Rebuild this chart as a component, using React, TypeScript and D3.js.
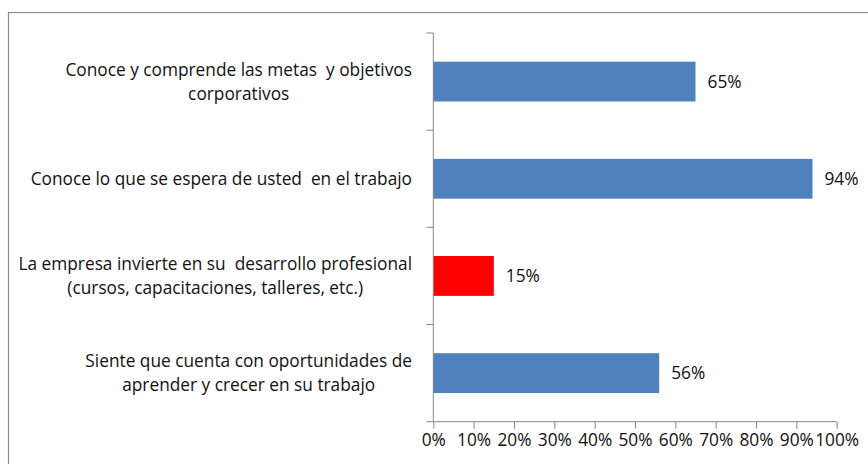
import React, { useEffect, useRef } from "react";
import * as d3 from "d3";

const categories = [
  "Conoce y comprende las metas  y objetivos|corporativos",
  "Conoce lo que se espera de usted  en el trabajo",
  "La empresa invierte en su  desarrollo profesional|(cursos, capacitaciones, talleres, etc.)",
  "Siente que cuenta con oportunidades de|aprender y crecer en su trabajo",
];
const values = [0.65, 0.94, 0.15, 0.56];
const barColors = ["#4F81BD", "#4F81BD", "#FF0000", "#4F81BD"];
const xTicks = [0, 0.1, 0.2, 0.3, 0.4, 0.5, 0.6, 0.7, 0.8, 0.9, 1];

const W = 868;
const H = 464;
const FONT = "'Open Sans', sans-serif";
const FS = 17.3;

const App = () => {
  const ref = useRef<SVGSVGElement>(null);

  useEffect(() => {
    const svg = d3.select(ref.current);
    svg.selectAll("*").remove();

    const left = 433.3;
    const right = 836.7;
    const top = 33;
    const bottom = 421.7;

    // chart frame (runs off the right and bottom of the picture)
    svg
      .append("rect")
      .attr("x", 8.5)
      .attr("y", 12.5)
      .attr("width", W + 10)
      .attr("height", H + 10)
      .attr("fill", "white")
      .attr("stroke", "#8c8c8c")
      .attr("stroke-width", 1.2);

    const x = d3.scaleLinear().domain([0, 1]).range([left, right]);
    const y = d3
      .scaleBand<number>()
      .domain(d3.range(categories.length))
      .range([top, bottom])
      .padding(0);

    const barH = y.bandwidth() * 0.41;

    // bars
    svg
      .append("g")
      .selectAll("rect")
      .data(values)
      .join("rect")
      .attr("x", x(0))
      .attr("y", (d, i) => (y(i) as number) + y.bandwidth() / 2 - barH / 2)
      .attr("width", (d) => x(d) - x(0))
      .attr("height", barH)
      .attr("fill", (d, i) => barColors[i]);

    // value labels
    svg
      .append("g")
      .selectAll("text")
      .data(values)
      .join("text")
      .attr("x", (d) => x(d) + 12)
      .attr("y", (d, i) => (y(i) as number) + y.bandwidth() / 2 + 6)
      .attr("font-family", FONT)
      .attr("font-size", FS)
      .attr("fill", "#111")
      .text((d) => d3.format(".0%")(d));

    // x axis
    const xAxis = svg
      .append("g")
      .attr("transform", `translate(0,${bottom})`)
      .call(
        d3
          .axisBottom(x)
          .tickValues(xTicks)
          .tickSize(7)
          .tickFormat(d3.format(".0%") as any)
      );
    xAxis.select(".domain").attr("stroke", "#868686").attr("d", `M${left},0H${right}`);
    xAxis.selectAll(".tick line").attr("stroke", "#868686");
    xAxis
      .selectAll<SVGTextElement, number>(".tick text")
      .attr("y", 24)
      .attr("dy", 0)
      .attr("font-family", FONT)
      .attr("font-size", FS)
      .attr("fill", "#111")
      .attr("x", function () {
        // keep the last label inside the picture
        const tx = x((this.parentNode as any).__data__);
        const w = this.getComputedTextLength();
        return Math.min(0, 859 - (tx + w / 2));
      });

    // y axis
    const yAxis = svg.append("g").attr("transform", `translate(${left},0)`);
    yAxis
      .append("line")
      .attr("x1", 0)
      .attr("x2", 0)
      .attr("y1", top)
      .attr("y2", bottom)
      .attr("stroke", "#868686");
    yAxis
      .selectAll("line.tick")
      .data(d3.range(categories.length + 1))
      .join("line")
      .attr("class", "tick")
      .attr("x1", -7)
      .attr("x2", 0)
      .attr("y1", (d) => top + d * y.step())
      .attr("y2", (d) => top + d * y.step())
      .attr("stroke", "#868686");

    // category labels: lines centred within a block that is right-aligned
    const labelRight = 412;
    const lineH = 24;
    categories.forEach((c, i) => {
      const lines = c.split("|");
      const g = svg.append("g");
      const texts = g
        .selectAll("text")
        .data(lines)
        .join("text")
        .attr("font-family", FONT)
        .attr("font-size", FS)
        .attr("fill", "#111")
        .attr("text-anchor", "middle")
        .style("white-space", "pre")
        .text((d) => d);
      let maxW = 0;
      texts.each(function () {
        maxW = Math.max(maxW, (this as SVGTextElement).getComputedTextLength());
      });
      const cy = (y(i) as number) + y.bandwidth() / 2;
      texts
        .attr("x", labelRight - maxW / 2)
        .attr("y", (d, j) => cy + 6 + (j - (lines.length - 1) / 2) * lineH);
    });
  }, []);

  return (
    <svg
      ref={ref}
      width={W}
      height={H}
      style={{ position: "absolute", left: 0, top: 0, background: "white" }}
    ></svg>
  );
};

export default App;
